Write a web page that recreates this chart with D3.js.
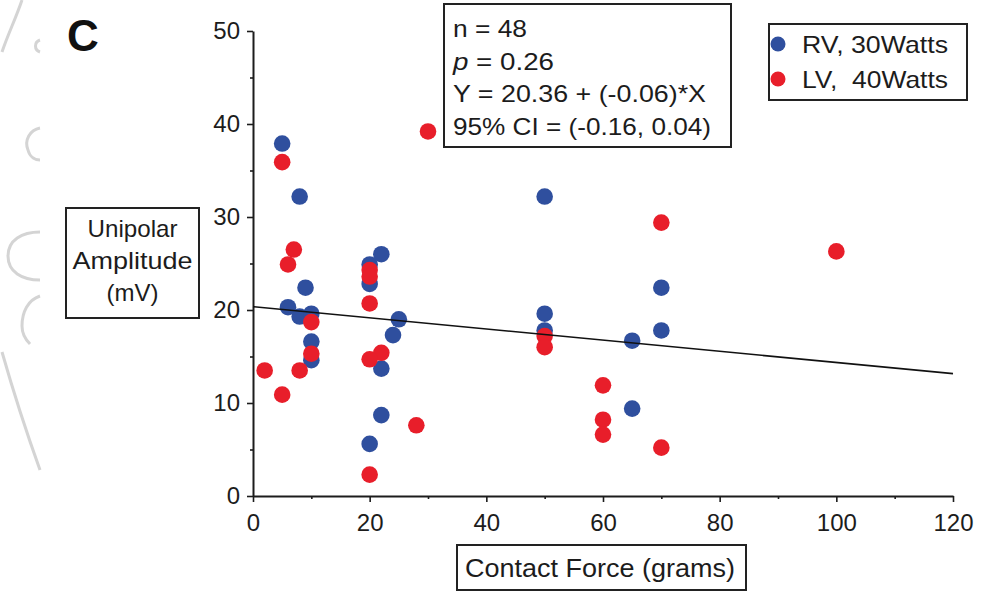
<!DOCTYPE html>
<html>
<head>
<meta charset="utf-8">
<script src="https://cdn.jsdelivr.net/npm/d3@7"></script>
<style>
  html, body { margin: 0; padding: 0; background: #fff; }
  svg { display: block; font-family: "Liberation Sans", Arial, sans-serif; }
</style>
</head>
<body>
<svg id="chart" width="981" height="592"></svg>
<script>
// ---- data ----
const rvForce = [5, 8, 9, 6, 22, 20, 20, 25, 8, 10, 10, 10, 24, 22, 22, 20, 50, 70, 50, 50, 65, 70, 65];
const rvAmp   = [37.9, 32.2, 22.4, 20.3, 26.0, 24.9, 22.8, 19.0, 19.3, 19.6, 16.6, 14.6, 17.3, 13.7, 8.7, 5.6, 32.2, 22.4, 19.6, 17.8, 16.7, 17.8, 9.4];
const lvForce = [5, 7, 6, 30, 20, 20, 20, 10, 10, 2, 8, 5, 22, 20, 28, 20, 70, 50, 50, 60, 60, 60, 70, 100];
const lvAmp   = [35.9, 26.5, 24.9, 39.2, 24.3, 23.6, 20.7, 18.7, 15.3, 13.5, 13.5, 10.9, 15.4, 14.7, 7.6, 2.3, 29.4, 17.2, 16.0, 11.9, 8.2, 6.6, 5.2, 26.3];
const xTicks = [0, 20, 40, 60, 80, 100, 120];
const xMinorTicks = [10, 30, 50, 70, 90, 110];
const yTicks = [0, 10, 20, 30, 40, 50];
const yMinorTicks = [5, 15, 25, 35, 45];
const fitIntercept = 20.36;
const fitSlope = -0.06;
const seriesNames = ["RV, 30Watts", "LV,  40Watts"];
const seriesColors = ["#2f4f9e", "#e81e2a"];
const statsLines = ["n = 48", "p = 0.26", "Y = 20.36 + (-0.06)*X", "95% CI = (-0.16, 0.04)"];
const yTitleLines = ["Unipolar", "Amplitude", "(mV)"];
const xTitle = "Contact Force (grams)";
const panelLabel = "C";

// ---- drawing ----
const svg = d3.select("#chart");
const ink = "#1c1c1c";

// faint decorative fragments of the neighbouring panel (left edge)
const deco = svg.append("g").attr("fill", "none").attr("stroke", "#d4d4d4").attr("stroke-width", 3);
deco.append("path").attr("d", "M22,0 C16,18 8,34 2,52");
deco.append("path").attr("d", "M40,40 C34,42 34,50 40,52");
deco.append("path").attr("d", "M40,128 C30,130 24,140 28,150 C30,158 36,160 40,160");
deco.append("path").attr("d", "M40,232 C22,232 8,240 8,256 C8,272 22,280 40,280");
deco.append("path").attr("d", "M40,296 C28,300 22,312 22,326 C22,334 26,340 30,344");
deco.append("path").attr("d", "M2,352 C10,380 22,420 40,470");

const x = d3.scaleLinear().domain([0, 120]).range([253, 953]);
const y = d3.scaleLinear().domain([0, 50]).range([496, 31]);

// axes
const gx = svg.append("g").attr("transform", `translate(0,${y(0)})`)
  .call(d3.axisBottom(x).tickValues(xTicks).tickSize(6).tickSizeOuter(0).tickPadding(12));
const gxm = svg.append("g").attr("transform", `translate(0,${y(0)})`)
  .call(d3.axisBottom(x).tickValues(xMinorTicks).tickSize(3).tickFormat(""));
gxm.select(".domain").remove();

const gy = svg.append("g").attr("transform", `translate(${x(0)},0)`)
  .call(d3.axisLeft(y).tickValues(yTicks).tickSize(6).tickSizeOuter(0).tickPadding(7));
const gym = svg.append("g").attr("transform", `translate(${x(0)},0)`)
  .call(d3.axisLeft(y).tickValues(yMinorTicks).tickSize(3).tickFormat(""));
gym.select(".domain").remove();

[gx, gxm, gy, gym].forEach(g => {
  g.selectAll(".domain").attr("stroke", ink).attr("stroke-width", 2);
  g.selectAll(".tick line").attr("stroke", ink).attr("stroke-width", 1.6);
  g.selectAll("text").attr("font-size", 24).attr("fill", ink)
    .attr("font-family", "'Liberation Sans', Arial, sans-serif");
});

// points: blue first, red over it
const rv = rvForce.map((f, i) => ({ f, a: rvAmp[i] }));
const lv = lvForce.map((f, i) => ({ f, a: lvAmp[i] }));
svg.append("g").selectAll("circle").data(rv).join("circle")
  .attr("cx", d => x(d.f)).attr("cy", d => y(d.a)).attr("r", 8.3).attr("fill", seriesColors[0]);
svg.append("g").selectAll("circle").data(lv).join("circle")
  .attr("cx", d => x(d.f)).attr("cy", d => y(d.a)).attr("r", 8.3).attr("fill", seriesColors[1]);

// regression line
svg.append("line")
  .attr("x1", x(0)).attr("y1", y(fitIntercept))
  .attr("x2", x(120)).attr("y2", y(fitIntercept + fitSlope * 120))
  .attr("stroke", "#111").attr("stroke-width", 1.6);

// panel label
svg.append("text").attr("x", 67).attr("y", 51).attr("font-size", 44).attr("font-weight", "bold")
  .attr("fill", "#111").text(panelLabel);

// stats box
svg.append("rect").attr("x", 444).attr("y", 4).attr("width", 287).attr("height", 143)
  .attr("fill", "#fff").attr("stroke", "#222").attr("stroke-width", 2);
const statsLen = [74, 101, 253, 258];
statsLines.forEach((t, i) => {
  const tx = svg.append("text").attr("x", 453).attr("y", 37 + i * 32.5)
    .attr("font-size", 24).attr("fill", ink)
    .attr("textLength", statsLen[i]).attr("lengthAdjust", "spacingAndGlyphs");
  if (t.startsWith("p ")) {
    tx.append("tspan").attr("font-style", "italic").text("p");
    tx.append("tspan").text(t.slice(1));
  } else {
    tx.text(t);
  }
});

// legend
svg.append("rect").attr("x", 769).attr("y", 24).attr("width", 198).attr("height", 76)
  .attr("fill", "#fff").attr("stroke", "#222").attr("stroke-width", 2);
const legLen = [146, 146];
seriesNames.forEach((n, i) => {
  svg.append("circle").attr("cx", 778).attr("cy", 44 + i * 35).attr("r", 7.5).attr("fill", seriesColors[i]);
  svg.append("text").attr("x", 802).attr("y", 53 + i * 35).attr("font-size", 24).attr("fill", ink)
    .style("white-space", "pre")
    .attr("textLength", legLen[i]).attr("lengthAdjust", "spacingAndGlyphs").text(n);
});

// y title box
svg.append("rect").attr("x", 66).attr("y", 208).attr("width", 133).attr("height", 110)
  .attr("fill", "#fff").attr("stroke", "#222").attr("stroke-width", 2);
const yTitleLen = [90, 120, 52];
yTitleLines.forEach((t, i) => {
  svg.append("text").attr("x", 132.5 - yTitleLen[i] / 2).attr("y", 237 + i * 32)
    .attr("font-size", 24).attr("fill", ink)
    .attr("textLength", yTitleLen[i]).attr("lengthAdjust", "spacingAndGlyphs").text(t);
});

// x title box
svg.append("rect").attr("x", 457).attr("y", 545).attr("width", 289).attr("height", 45)
  .attr("fill", "#fff").attr("stroke", "#222").attr("stroke-width", 2);
svg.append("text").attr("x", 465).attr("y", 577).attr("font-size", 25).attr("fill", ink)
  .attr("textLength", 270).attr("lengthAdjust", "spacingAndGlyphs").text(xTitle);
</script>
</body>
</html>
